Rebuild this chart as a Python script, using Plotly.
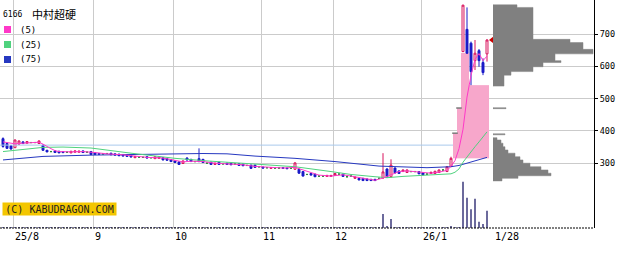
import plotly.graph_objects as go

# ---------------- data ----------------
title_code = "6166"
title_name = "中村超硬"

# trading-day index 0 .. 121 (29 Jul 2025 .. 28 Jan 2026)
opens = [376, 361, 354, 348, 359, 366, 362, 364, 364, 361,
         356, 340, 336, 338, 337, 336, 334, 332, 334, 334,
         338, 334, 336, 332, 330, 329, 330, 331, 329, 328,
         327, 326, 324, 317, 319, 318, 320, 317, 314, 315,
         317, 314, 311, 307, 304, 299, 316, 312, 305, 314,
         312, 300, 303, 296, 303, 298, 300, 299, 297, 298,
         297, 293, 294, 294, 289, 288, 286, 284, 285, 285,
         286, 285, 284, 281, 281, 274, 265, 268, 266, 260,
         260, 259, 259, 262, 266, 266, 258, 260, 253, 253,
         253, 251, 250, 250, 253, 254, 282, 258, 285, 276,
         274, 271, 274, 274, 274, 270, 266, 268, 268, 271,
         279, 274, 290, 393, 471, 646, 715, 672, 618, 649,
         612, 639]
highs = [380, 364, 356, 373, 370, 368, 368, 366, 366, 370,
         357, 341, 338, 339, 338, 337, 336, 338, 339, 339,
         339, 336, 338, 333, 331, 331, 332, 332, 330, 329,
         328, 327, 325, 322, 321, 320, 321, 319, 321, 320,
         318, 315, 312, 308, 305, 308, 318, 313, 307, 346,
         313, 302, 304, 301, 304, 300, 301, 300, 299, 299,
         298, 295, 295, 295, 291, 289, 288, 287, 287, 287,
         287, 286, 286, 302, 283, 275, 267, 269, 267, 262,
         262, 263, 263, 269, 268, 267, 260, 262, 258, 254,
         254, 252, 251, 251, 255, 331, 284, 312, 287, 277,
         280, 280, 276, 276, 275, 271, 268, 273, 276, 280,
         281, 290, 320, 393, 471, 791, 783, 677, 682, 654,
         625, 684]
lows = [348, 344, 342, 347, 357, 359, 361, 362, 362, 360,
        338, 334, 334, 332, 331, 331, 332, 331, 333, 333,
        332, 332, 325, 326, 327, 327, 328, 325, 324, 322,
        321, 320, 318, 316, 317, 316, 315, 315, 313, 314,
        309, 308, 304, 301, 295, 298, 308, 304, 303, 303,
        301, 298, 295, 295, 295, 296, 295, 294, 295, 292,
        291, 291, 282, 286, 287, 284, 284, 283, 283, 283,
        283, 282, 282, 280, 267, 259, 263, 262, 257, 258,
        258, 258, 258, 261, 264, 258, 256, 258, 252, 247,
        245, 245, 245, 245, 251, 252, 255, 256, 268, 267,
        273, 270, 272, 272, 266, 263, 264, 267, 267, 270,
        277, 273, 288, 393, 471, 645, 640, 542, 589, 599,
        573, 615]
closes = [352, 346, 344, 372, 369, 361, 367, 364, 364, 369,
          340, 335, 336, 333, 332, 333, 334, 337, 338, 337,
          333, 334, 327, 327, 328, 329, 330, 326, 325, 323,
          322, 321, 319, 321, 319, 318, 316, 317, 320, 319,
          310, 309, 305, 302, 296, 307, 310, 305, 305, 305,
          302, 300, 296, 300, 296, 298, 296, 295, 297, 293,
          292, 293, 284, 287, 289, 285, 286, 286, 285, 285,
          284, 283, 284, 301, 269, 260, 265, 263, 258, 260,
          260, 262, 262, 268, 266, 259, 258, 260, 257, 248,
          246, 246, 246, 246, 253, 273, 258, 294, 270, 268,
          279, 279, 274, 274, 267, 264, 266, 272, 275, 279,
          279, 289, 315, 393, 471, 790, 641, 584, 641, 618,
          581, 682]
volumes = [30] * 95 + [1400, 150, 900, 100] + [30] * 13 + [200, 60, 80,
           4630, 3030, 1870, 2930, 630, 400, 1730]

# moving averages, read at sample days
ma5_idx = [0, 3, 5, 9, 10, 11, 12, 13, 14, 17, 20, 23, 26, 30, 33, 36, 40, 43,
           45, 47, 50, 53, 57, 60, 63, 66, 70, 73, 75, 77, 79, 82, 85, 87, 90,
           93, 95, 97, 99, 101, 103, 105, 107, 109, 111, 112, 113, 114, 115,
           116, 117, 118, 119, 120, 121]
ma5_val = [366, 360, 362, 365, 359, 351, 345, 339, 336, 335, 336, 333, 329,
           326, 322, 318, 316, 309, 304, 306, 305, 300, 298, 295, 290, 287,
           285, 287, 279, 270, 263, 260, 264, 260, 253, 247, 254, 265, 274,
           276, 274, 270, 269, 272, 278, 290, 308, 345, 405, 505, 572, 622,
           640, 618, 632]
ma25_idx = [0, 10, 15, 22, 32, 43, 51, 62, 73, 82, 87, 93, 96, 100, 106, 111,
            112, 113, 114, 115, 116, 117, 118, 119, 120, 121]
ma25_val = [336, 349, 350, 347, 331, 315, 307, 297, 289, 274, 265, 258, 255,
            259, 262, 265, 267, 272, 282, 303, 320, 336, 351, 366, 381, 397]
ma75_idx = [0, 10, 22, 37, 50, 56, 63, 73, 83, 94, 106, 112, 114, 116, 118, 121]
ma75_val = [310, 321, 325, 328, 330, 329, 322, 315, 305, 291, 286, 289, 293,
            300, 308, 318]

ref_level = 356          # light-blue reference line
band_idx = [113, 114, 115, 116, 117, 118, 119, 120, 121]
band_top = [393, 471, 642, 642, 542, 542, 542, 542, 542]
band_base = 315

# volume-by-price profile (price bin low/high, relative volume)
profile_lo = [783, 684, 674, 653, 639, 618, 612, 599, 584, 573, 539, 469, 388,
              372, 362, 351, 341, 331, 320, 310, 300, 289, 279, 269, 261, 253, 245]
profile_hi = [791, 783, 684, 674, 653, 639, 618, 612, 599, 584, 573, 472, 391,
              379, 372, 362, 351, 341, 331, 320, 310, 300, 289, 279, 269, 261, 253]
profile_vol = [24, 40, 77, 90, 100, 62, 68, 50, 40, 18, 11, 13, 12,
               4, 8, 10, 12, 15, 22, 27, 30, 37, 48, 55, 58, 25, 9]

month_idx = [3, 23, 43, 65, 83, 105]
month_labels = ["25/8", "9", "10", "11", "12", "26/1"]
last_label = "1/28"
ytick_vals = [300, 400, 500, 600, 700]
legend_labels = ["(5)", "(25)", "(75)"]
copyright_text = "(C) KABUDRAGON.COM"

# ---------------- styling ----------------
UP = "#d8125c"
DOWN = "#1a1ac8"
DOJI = "#2f8a3c"
C5 = "#ff38c8"
C25 = "#4fd27e"
C75 = "#2638c0"
GRID = "#cbcbcb"
PROF = "#808080"
MONO = "DejaVu Sans Mono"

n = len(closes)
idx = list(range(n))

up_i = [i for i in idx if closes[i] > opens[i]]
dn_i = [i for i in idx if closes[i] < opens[i]]
dj_i = [i for i in idx if closes[i] == opens[i] and highs[i] != lows[i]]
lim_i = [i for i in idx if highs[i] == lows[i]]


def pick(arr, sel):
    return [arr[i] for i in sel]


fig = go.Figure()

# pink band
fig.add_trace(go.Bar(x=band_idx, y=[t - band_base for t in band_top], base=band_base,
                     width=1, marker=dict(color="#f7a7cb", line=dict(width=0)),
                     hoverinfo="skip"))
# reference line
fig.add_trace(go.Scatter(x=[-0.75, band_idx[0] - 0.5], y=[ref_level, ref_level],
                         mode="lines", line=dict(color="#a9c9ec", width=1),
                         hoverinfo="skip"))
# moving averages
for xi, yv, col in [(ma75_idx, ma75_val, C75), (ma25_idx, ma25_val, C25),
                    (ma5_idx, ma5_val, C5)]:
    fig.add_trace(go.Scatter(x=xi, y=yv, mode="lines",
                             line=dict(color=col, width=1), hoverinfo="skip"))

# candles
fig.add_trace(go.Candlestick(
    x=up_i, open=pick(opens, up_i), high=pick(highs, up_i), low=pick(lows, up_i),
    close=pick(closes, up_i),
    increasing=dict(line=dict(color=UP, width=1), fillcolor="white"),
    decreasing=dict(line=dict(color=UP, width=1), fillcolor="white"),
    hoverinfo="skip"))
fig.add_trace(go.Candlestick(
    x=dn_i, open=pick(opens, dn_i), high=pick(highs, dn_i), low=pick(lows, dn_i),
    close=pick(closes, dn_i),
    increasing=dict(line=dict(color=DOWN, width=1), fillcolor=DOWN),
    decreasing=dict(line=dict(color=DOWN, width=1), fillcolor=DOWN),
    hoverinfo="skip"))
fig.add_trace(go.Candlestick(
    x=dj_i, open=pick(opens, dj_i), high=pick(highs, dj_i), low=pick(lows, dj_i),
    close=pick(closes, dj_i),
    increasing=dict(line=dict(color=DOJI, width=1), fillcolor=DOJI),
    decreasing=dict(line=dict(color=DOJI, width=1), fillcolor=DOJI),
    hoverinfo="skip"))
# limit days (single price)
fig.add_trace(go.Scatter(x=lim_i, y=pick(closes, lim_i), mode="markers",
                         marker=dict(symbol="line-ew", size=4,
                                     line=dict(color="#7a7a7a", width=1.5)),
                         hoverinfo="skip"))
# last close marker
fig.add_trace(go.Scatter(x=[n - 1 + 1.5], y=[closes[-1]], mode="markers",
                         marker=dict(symbol="triangle-left", size=8, color="#cc0000",
                                     line=dict(width=0)),
                         hoverinfo="skip"))

# volume
fig.add_trace(go.Bar(x=idx, y=volumes, width=0.25, yaxis="y2",
                     marker=dict(color="#6c6a9c", line=dict(width=0)),
                     hoverinfo="skip"))

# volume profile: one filled rectangle per price bin
px_, py_ = [], []
for lo, hi, v in zip(profile_lo, profile_hi, profile_vol):
    px_ += [0, v, v, 0, 0, None]
    py_ += [lo, lo, hi, hi, lo, None]
fig.add_trace(go.Scatter(x=px_, y=py_, xaxis="x2", yaxis="y", mode="lines",
                         fill="toself", fillcolor=PROF,
                         line=dict(color=PROF, width=0.5), connectgaps=False,
                         hoverinfo="skip"))

PW, PH = 594.0, 228.0

shapes = [dict(type="line", xref="paper", yref="paper", x0=0, x1=1, y0=0, y1=0,
               line=dict(color="black", width=1, dash="2px,1px"))]
annotations = []

# x labels
for m, lab in zip(month_idx, month_labels):
    annotations.append(dict(x=m - 0.5, y=0, xref="x", yref="paper", text=lab,
                            showarrow=False, xanchor="left", yanchor="top",
                            xshift=0, yshift=-1,
                            font=dict(family=MONO, size=10, color="black")))
annotations.append(dict(x=n - 1 + 1.5, y=0, xref="x", yref="paper", text=last_label,
                        showarrow=False, xanchor="left", yanchor="top", yshift=-1,
                        font=dict(family=MONO, size=10, color="black")))

# title
annotations.append(dict(x=1 / PW, y=1 - 14.5 / PH, xref="paper", yref="paper",
                        text=title_code, showarrow=False, xanchor="left",
                        yanchor="middle", font=dict(family=MONO, size=8, color="black")))
annotations.append(dict(x=30 / PW, y=1 - 14 / PH, xref="paper", yref="paper",
                        text=title_name, showarrow=False, xanchor="left",
                        yanchor="middle",
                        font=dict(family="Noto Sans CJK JP", size=11, color="black")))
# legend
for k, (lab, col) in enumerate(zip(legend_labels, [C5, C25, C75])):
    yc = 29.5 + 15 * k
    shapes.append(dict(type="rect", xref="paper", yref="paper",
                       x0=4 / PW, x1=11 / PW, y0=1 - (yc + 3.5) / PH,
                       y1=1 - (yc - 3.5) / PH, fillcolor=col, line=dict(width=0)))
    annotations.append(dict(x=18 / PW, y=1 - yc / PH, xref="paper", yref="paper",
                            text=lab, showarrow=False, xanchor="left",
                            yanchor="middle",
                            font=dict(family=MONO, size=9, color="black")))
# copyright
annotations.append(dict(x=2 / PW, y=1 - 208.5 / PH, xref="paper", yref="paper",
                        text=copyright_text, showarrow=False, xanchor="left",
                        yanchor="middle", width=113, height=12, bgcolor="#f3c600",
                        borderpad=0,
                        font=dict(family=MONO, size=10, color="#222222")))

fig.update_layout(
    width=639, height=254, margin=dict(l=0, r=45, t=0, b=26),
    paper_bgcolor="white", plot_bgcolor="white", showlegend=False,
    barmode="overlay", boxgap=0.3,
    xaxis=dict(range=[-0.75, 147.75], tickvals=[m - 0.5 for m in month_idx],
               showticklabels=False, ticks="", showgrid=True, gridcolor=GRID,
               gridwidth=1, zeroline=False, showline=False,
               rangeslider=dict(visible=False), fixedrange=True),
    xaxis2=dict(domain=[493 / PW, 1], anchor="y", range=[0, 101], visible=False,
                fixedrange=True),
    yaxis=dict(range=[99, 806], side="right", tickvals=ytick_vals, ticks="outside",
               ticklen=3, tickcolor="black", showline=True, linecolor="black",
               linewidth=1, showgrid=True, gridcolor=GRID, zeroline=False,
               tickfont=dict(family=MONO, size=8.5, color="black"), fixedrange=True),
    yaxis2=dict(overlaying="y", range=[0, 22800], visible=False, fixedrange=True),
    shapes=shapes, annotations=annotations,
)

fig.write_html("out.html")
